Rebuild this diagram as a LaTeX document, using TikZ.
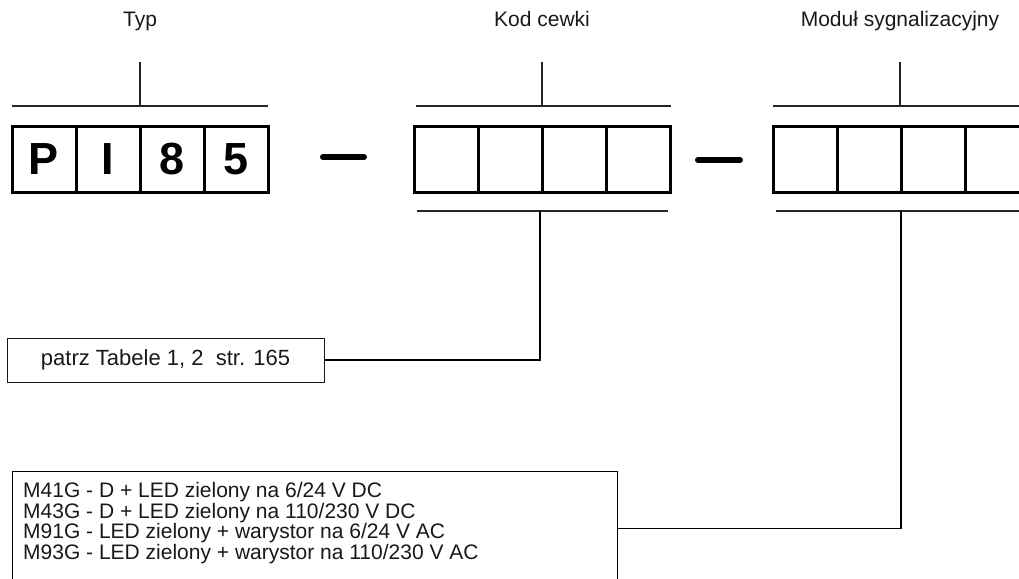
\documentclass[tikz,border=0pt]{standalone}
\usepackage{fontspec}
\setmainfont{Liberation Sans}
\usetikzlibrary{positioning}

\tikzset{
	cell/.style={draw, line width=3pt, minimum width=64pt, minimum height=66pt, inner sep=0pt,
		font=\fontsize{45}{45}\selectfont\bfseries},
	bracket/.style={line width=2pt, color=black!85},
	lead/.style={line width=1.3pt},
	dashbar/.style={line width=6pt, line cap=round},
	title/.style={anchor=base, font=\fontsize{21}{24}\selectfont, color=black!90},
}

\begin{document}
\begin{tikzpicture}[x=1pt, y=-1pt]
		%%%%% START %%%%%
		\useasboundingbox (0, 0) rectangle (1019, 578);
		\clip (0, 0) rectangle (1019, 578);
		
		\node[title] (typ) at (140, 27) {Typ};
		\node[title] (kod) at (542, 27) {Kod cewki};
		\node[title] (mod) at (900, 27) {Moduł sygnalizacyjny};
		
		% cells
		\foreach \i/\t in {1/P, 2/I, 3/8, 4/5}
			\node[cell] (typ\i) at (12+64*\i-32, 159) {\t};
		\foreach \grp/\x in {kod/414, mod/773}
			\foreach \i in {1,...,4}
				\node[cell] (\grp\i) at (\x+64*\i-32, 159) {};
		
		\draw[dashbar] (323, 157) -- (364, 157);
		\draw[dashbar] (698, 160) -- (740, 160);
		
		% brackets
		\draw[bracket] (12, 106) -- (268, 106);
		\draw[bracket] (140, 62) -- (140, 106);
		\draw[bracket] (416, 106) -- (671, 106);
		\draw[bracket] (542, 62) -- (542, 106);
		\draw[bracket] (773, 106) -- (1019, 106);
		\draw[bracket] (900, 62) -- (900, 106);
		
		\draw[bracket] (417, 211) -- (668, 211);
		\draw[bracket] (776, 211) -- (1019, 211);
		\coordinate (kodtick) at (540, 211);
		\coordinate (modtick) at (901, 211);
		
		% boxes
		\node[draw, line width=1pt, minimum width=317pt, minimum height=44pt, inner sep=0pt,
			font=\fontsize{22}{24}\selectfont, color=black!90] (patrz) at (165.5, 360) {patrz Tabele 1, 2\ \ str. 165};
		
		\node[draw, line width=1pt, minimum width=605pt, minimum height=114pt, anchor=north west] (modbox) at (12, 471) {};
		\node[anchor=north west, inner sep=0pt, align=left, color=black!90,
			font=\fontsize{21}{20.7}\selectfont] (modlist) at (23, 482)
			{M41G - D + LED zielony na 6/24 V DC\\
			M43G - D + LED zielony na 110/230 V DC\\
			M91G - LED zielony + warystor na 6/24 V AC\\
			M93G - LED zielony + warystor na 110/230 V AC};
		
		\draw[lead] (kodtick) |- (patrz.east);
		\draw[lead] (modtick) |- (modbox.east);
		
		%%%%% END %%%%%
	\end{tikzpicture}
\end{document}
